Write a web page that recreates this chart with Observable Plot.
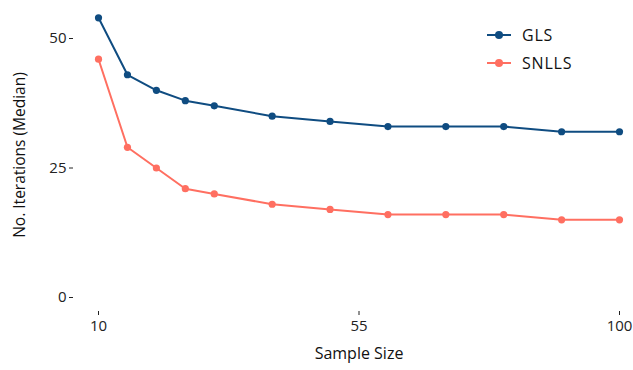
<!DOCTYPE html>
<html>
<head>
<meta charset="utf-8">
<script src="https://cdn.jsdelivr.net/npm/d3@7"></script>
<script src="https://cdn.jsdelivr.net/npm/@observablehq/plot@0.6"></script>
<style>
  html, body { margin: 0; padding: 0; background: #fff; }
  #wrap { position: relative; width: 633px; height: 370px; font-family: "Open Sans", sans-serif; }
  #legend { position: absolute; left: 487px; top: 21px; font-size: 16px; letter-spacing: 0.8px; color: #111; }
  .item { display: flex; align-items: center; height: 28px; }
  .sw { position: relative; width: 24px; height: 12px; margin-right: 11px; }
  .sw .ln { position: absolute; left: 0; right: 0; top: 5px; height: 2.4px; }
  .sw .dt { position: absolute; left: 8px; top: 2px; width: 8px; height: 8px; border-radius: 50%; }
  #ytitle { position: absolute; left: 20px; top: 155px; transform: translate(-50%, -50%) rotate(-90deg); white-space: nowrap; font-size: 15.5px; color: #111; line-height: 1; }
</style>
</head>
<body>
<div id="wrap"></div>
<script>
const sampleSizes = [10, 15, 20, 25, 30, 40, 50, 60, 70, 80, 90, 100];
const glsValues   = [54, 43, 40, 38, 37, 35, 34, 33, 33, 33, 32, 32];
const snllsValues = [46, 29, 25, 21, 20, 18, 17, 16, 16, 16, 15, 15];
const seriesNames = ["GLS", "SNLLS"];
const seriesColors = ["#0F4C81", "#FF6F61"];
const xTicks = [10, 55, 100];
const yTicks = [0, 25, 50];
const xTitle = "Sample Size";
const yTitle = "No. Iterations (Median)";

const data = [];
sampleSizes.forEach((s, i) => {
  data.push({size: s, value: glsValues[i], method: seriesNames[0]});
  data.push({size: s, value: snllsValues[i], method: seriesNames[1]});
});

const chart = Plot.plot({
  width: 633,
  height: 370,
  marginLeft: 98,
  marginRight: 14,
  marginTop: 38,
  marginBottom: 73,
  style: {fontFamily: "Open Sans, sans-serif", fontSize: "14px", color: "#222", background: "#fff"},
  x: {domain: [10, 100]},
  y: {domain: [0, 50]},
  color: {domain: seriesNames, range: seriesColors},
  marks: [
    Plot.axisY({ticks: yTicks, tickSize: 4, tickPadding: 3, dx: -25, label: null, fontSize: 15}),
    Plot.axisX({ticks: xTicks, tickSize: 4, tickPadding: 5, dy: 14, label: null, fontSize: 15}),
    Plot.line(data, {x: "size", y: "value", z: "method", stroke: "method", strokeWidth: 2}),
    Plot.dot(data, {x: "size", y: "value", fill: "method", r: 3.6}),
    Plot.text([xTitle], {frameAnchor: "bottom", dy: 61, text: d => d, fontSize: 16, fill: "#111"})
  ]
});

const wrap = document.getElementById("wrap");
wrap.appendChild(chart);

const yt = document.createElement("div");
yt.id = "ytitle";
yt.textContent = yTitle;
wrap.appendChild(yt);

const legend = document.createElement("div");
legend.id = "legend";
seriesNames.forEach((name, i) => {
  const item = document.createElement("div");
  item.className = "item";
  item.innerHTML = `<div class="sw"><div class="ln" style="background:${seriesColors[i]}"></div><div class="dt" style="background:${seriesColors[i]}"></div></div><span>${name}</span>`;
  legend.appendChild(item);
});
wrap.appendChild(legend);
</script>
</body>
</html>
